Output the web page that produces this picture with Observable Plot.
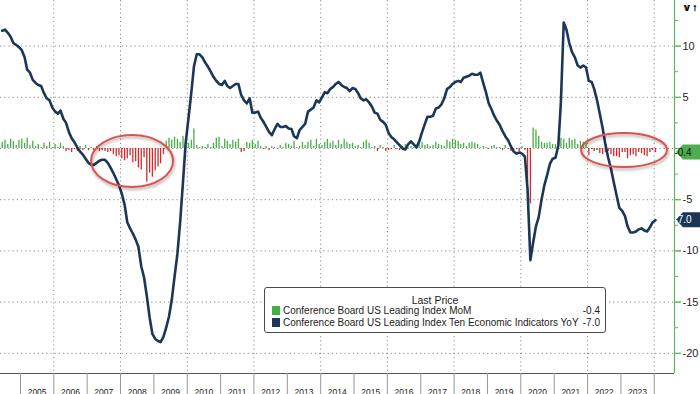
<!DOCTYPE html>
<html><head><meta charset="utf-8">
<script src="https://cdn.jsdelivr.net/npm/d3@7"></script>
<script src="https://cdn.jsdelivr.net/npm/@observablehq/plot@0.6"></script>
<style>
html,body{margin:0;padding:0;background:#fff;}
#wrap{position:relative;width:700px;height:394px;overflow:hidden;}
#legend{position:absolute;left:264px;top:287px;width:340px;height:44px;border:1px solid #4a4a4a;border-radius:3px;background:#fff;font-family:"Liberation Sans",Arial,sans-serif;font-size:10px;color:#222;}
#legend .t{position:absolute;left:0;width:100%;text-align:center;top:6px;font-size:10.5px;}
#legend .r{position:absolute;left:7px;right:5px;height:12px;line-height:12px;white-space:nowrap;}
#legend .sw{display:inline-block;width:8px;height:9px;vertical-align:-1px;margin-right:3px;}
#legend .v{position:absolute;right:0;top:0;}
</style></head><body><div id="wrap"></div>
<script>
// Monthly data, June 2004 .. January 2024
const startYear = 2004, startMonthIndex = 5; // June
const yoy = [
  11.5, 11.6, 11.3, 10.9, 10.3, 10.1, 9.9,                       // 2004 Jun-Dec
  9.6, 8.9, 7.7, 7.4, 6.7, 6.4, 6.2, 6.1, 5.4, 4.9, 4.7, 4.0,     // 2005
  3.6, 3.4, 3.7, 2.9, 2.5, 1.6, 1.0, 0.6, 0.1, -0.3, -0.6, -1.0,  // 2006
  -1.4, -1.6, -1.6, -1.4, -1.2, -1.1, -1.1, -1.4, -1.9, -2.4, -3.0, -3.6, // 2007
  -4.4, -5.5, -7.2, -7.8, -8.3, -8.9, -9.6, -11.5, -12.6, -14.4, -16.5, -18.1, // 2008
  -18.6, -18.8, -18.9, -18.4, -17.5, -16.4, -14.8, -12.5, -10.3, -7.2, -3.3, 0.6, // 2009
  3.0, 5.5, 8.0, 9.2, 9.2, 8.9, 8.4, 8.0, 7.5, 7.0, 6.6, 6.3,     // 2010
  6.2, 6.6, 6.1, 5.9, 6.1, 6.3, 6.3, 5.2, 4.7, 4.4, 4.9, 3.5,     // 2011
  3.5, 3.6, 3.0, 2.6, 2.1, 1.6, 1.3, 1.9, 2.4, 2.1, 2.1, 2.2,     // 2012
  1.95, 1.9, 1.2, 1.0, 1.8, 2.1, 2.4, 3.6, 3.8, 4.0, 4.7, 4.5,    // 2013
  5.0, 5.5, 5.4, 5.8, 6.0, 6.3, 6.5, 6.2, 6.0, 5.9, 5.6, 5.9,     // 2014
  5.8, 5.4, 4.9, 4.7, 4.8, 4.5, 4.1, 3.5, 3.4, 2.8, 2.6, 2.3,     // 2015
  1.5, 1.1, 0.9, 0.6, 0.3, 0.0, -0.1, 0.4, 0.7, 0.4, 0.1, 0.7,    // 2016
  1.6, 2.4, 3.1, 3.1, 3.2, 3.9, 4.0, 4.3, 4.9, 5.8, 6.0, 6.3,     // 2017
  6.5, 6.6, 6.5, 6.9, 7.0, 7.1, 7.3, 7.2, 7.2, 7.4, 6.4, 5.5,     // 2018
  4.4, 3.8, 3.2, 2.7, 2.3, 1.7, 1.2, 0.8, 0.2, -0.3, -0.5, -0.4,  // 2019
  -0.5, -0.8, -4.0, -10.9, -9.2, -7.6, -6.7, -5.0, -3.6, -2.6, -1.5, -1.0, // 2020
  -0.9, 0.3, 4.5, 12.3, 11.6, 10.3, 9.4, 8.9, 8.1, 7.9, 8.1, 7.9, // 2021
  6.6, 6.5, 5.8, 4.7, 3.4, 2.0, 0.4, -0.9, -2.0, -3.3, -4.6, -5.8, // 2022
  -6.1, -6.6, -7.6, -8.2, -8.2, -8.1, -7.9, -7.8, -8.0, -8.1, -7.7, -7.2, // 2023
  -7.0                                                             // 2024 Jan
];
const mom = [
  0.6, 0.8, 0.4, 0.9, 0.7, 0.3, 0.8,
  0.9, 0.5, 1.0, 0.3, 0.7, 0.2, 0.4, 0.1, 0.5, 0.2, 0.6, 0.1,
  0.4, 0.1, 0.5, 0.2, -0.3, -0.2, -0.4, -0.1, -0.3, 0.2, -0.2, 0.3,
  -0.2, 0.1, -0.2, 0.2, -0.3, -0.2, -0.3, -0.4, -0.3, -0.6, -0.8, -0.7,
  -1.0, -1.2, -1.0, -0.7, -1.4, -1.3, -1.9, -2.1, -0.9, -3.3, -2.4, -2.8,
  -2.2, -1.8, -1.5, -0.6, 0.7, 1.0, 0.8, 1.1, 0.9, 0.6, 1.2, 1.0,
  0.5, 0.8, 1.9, 0.3, 0.1, 0.2, 0.1, 0.4, 0.1, 0.5, 1.0, 1.1,
  0.2, 0.9, 0.7, 0.4, 0.8, 0.6, 0.9, -0.4, -0.3, 0.6, 0.5, 0.8,
  0.4, 0.7, 0.2, -0.1, 0.2, -0.2, 0.2, 0.1, -0.1, 0.3, 0.1, 0.5,
  0.4, 0.2, 0.7, 0.1, 0.2, 0.6, 0.3, 0.6, 0.8, 0.2, 0.9, 0.4,
  0.3, 0.6, 0.9, 0.5, 0.7, 0.3, 0.8, 0.4, 0.9, 0.6, 0.4, 0.5,
  0.2, 0.3, 0.1, 0.6, 0.8, 0.5, 0.1, 0.2, -0.3, 0.3, 0.1, -0.3,
  -0.2, -0.1, 0.3, -0.1, -0.2, 0.2, 0.4, 0.1, 0.2, 0.1, 0.3, 0.5,
  0.6, 0.3, 0.4, 0.2, 0.3, 0.6, 0.4, 0.3, 0.2, 0.8, 0.6, 0.9,
  0.8, 0.7, 0.4, 0.5, 0.2, 0.5, 0.6, 0.5, 0.4, 0.1, 0.2, 0.1,
  -0.1, 0.2, 0.3, 0.1, 0.1, -0.2, 0.3, -0.1, -0.3, -0.2, -0.1, -0.3,
  0.2, -0.2, -3.3, -5.4, 2.0, 1.8, 1.2, 0.6, 0.5, 0.5, 0.6, 0.4,
  0.4, 0.3, 1.0, 0.9, 0.5, 1.0, 0.8, 0.9, 0.4, 0.7, 0.6, 0.5,
  -0.7, -0.1, -0.3, -0.2, -0.5, -0.6, -0.4, -0.3, -0.6, -0.8, -0.8, -0.9,
  -0.4, -0.4, -1.0, -0.7, -0.6, -0.8, -0.4, -0.5, -0.7, -0.8, -0.4, -0.2,
  -0.4
];
const yearLabels = [2005,2006,2007,2008,2009,2010,2011,2012,2013,2014,2015,2016,2017,2018,2019,2020,2021,2022,2023];
const yearBoundaries = [2005,2006,2007,2008,2009,2010,2011,2012,2013,2014,2015,2016,2017,2018,2019,2020,2021,2022,2023,2024];
const gridYears = [2006,2008,2010,2012,2014,2016,2018,2020,2022,2024];
const yTicks = [-20,-15,-10,-5,0,5,10,15];
const yLabelTicks = [-20,-15,-10,-5,5,10,15]; // 0 label sits under the -0.4 tag
const yMinorTicks = [-17.5,-12.5,-7.5,-2.5,2.5,7.5,12.5];
const seriesNames = ["Conference Board US Leading Index MoM", "Conference Board US Leading Index Ten Economic Indicators YoY"];
const lastValues = [-0.4, -7.0];
const legendTitle = "Last Price";
// annotation ellipses (centre date/value)
const highlights = [
  {date: new Date(Date.UTC(2008,4,12)), value: -1.27, rx: 41, ry: 26},
  {date: new Date(Date.UTC(2023,1,10)), value: -0.2, rx: 43, ry: 17}
];

const GREEN = "#44b044", RED = "#d42a2a", NAVY = "#1c3658", AXISGREEN = "#5cb85c", GRID = "#8a8a8a";
const FONT = "'Liberation Sans', Arial, sans-serif";

const dates = yoy.map((_, i) => new Date(Date.UTC(startYear, startMonthIndex + i, 15)));
const lineRows = yoy.map((v, i) => ({date: dates[i], v}));
const barRows = mom.map((v, i) => ({date: dates[i], v}));
const utcYear = y => new Date(Date.UTC(y, 0, 1));
const xDomain = [new Date(Date.UTC(2004,4,27)), new Date(Date.UTC(2024,7,10))];
const yDomain = [-21.97, 14.45];

const plot = Plot.plot({
  width: 700, height: 394,
  marginTop: 0, marginLeft: 0, marginRight: 26, marginBottom: 21,
  style: {fontFamily: FONT, background: "#fff", overflow: "hidden"},
  x: {type: "utc", domain: xDomain, axis: null},
  y: {domain: yDomain, axis: null},
  marks: [
    Plot.gridX(gridYears.map(utcYear), {stroke: GRID, strokeOpacity: 1, strokeDasharray: "1.2,3"}),
    Plot.gridY(yTicks, {stroke: GRID, strokeOpacity: 1, strokeDasharray: "1.2,3"}),
    Plot.ruleX(barRows, {x: "date", y1: 0, y2: "v", stroke: d => d.v >= 0 ? GREEN : RED, strokeWidth: 1.3}),
    Plot.line(lineRows, {x: "date", y: "v", stroke: NAVY, strokeWidth: 2.6, strokeLinejoin: "round"}),
    Plot.ruleY([yDomain[0]], {stroke: "#555", strokeWidth: 1}),
    Plot.ruleX([xDomain[1]], {stroke: AXISGREEN, strokeWidth: 1.2}),
    Plot.axisY(yTicks, {anchor: "right", tickSize: 6, stroke: AXISGREEN, text: null}),
    Plot.axisY(yLabelTicks, {anchor: "right", tickSize: 6, tickPadding: 2, stroke: AXISGREEN, fill: "#222", fontSize: 11, tickFormat: d => String(d)}),
    Plot.axisY(yMinorTicks, {anchor: "right", tickSize: 3, stroke: AXISGREEN, text: null}),
    Plot.axisX(yearBoundaries.map(utcYear), {anchor: "bottom", tickSize: 21, stroke: "#999", text: null}),
    Plot.axisX(yearLabels.map(y => new Date(Date.UTC(y, 6, 2))), {anchor: "bottom", tickSize: 0, tickPadding: 15, fill: "#222", fontSize: 8.5, tickFormat: d => String(d.getUTCFullYear())})
  ]
});

document.getElementById("wrap").appendChild(plot);
const svg = d3.select(plot);
const xs = plot.scale("x"), ys = plot.scale("y");

// drop shadow filter for ellipses
const defs = svg.append("defs");
const f = defs.append("filter").attr("id", "sh").attr("x", "-20%").attr("y", "-20%").attr("width", "140%").attr("height", "150%");
f.append("feDropShadow").attr("dx", 1).attr("dy", 2).attr("stdDeviation", 1.5).attr("flood-color", "#000").attr("flood-opacity", 0.35);

highlights.forEach(h => {
  svg.append("ellipse")
    .attr("cx", xs.apply(h.date)).attr("cy", ys.apply(h.value))
    .attr("rx", h.rx).attr("ry", h.ry)
    .attr("fill", "none").attr("stroke", "#d9534f").attr("stroke-width", 2)
    .attr("filter", "url(#sh)");
});

// last-value tags on right axis
const tagColors = [{bg: "#4cae4c", fg: "#111"}, {bg: NAVY, fg: "#fff"}];
lastValues.forEach((v, i) => {
  const y = ys.apply(v), x0 = xs.apply(xDomain[1]) + 2;
  const g = svg.append("g");
  g.append("path")
    .attr("d", `M${x0},${y} L${x0 + 7},${y - 7.5} L700,${y - 7.5} L700,${y + 7.5} L${x0 + 7},${y + 7.5} Z`)
    .attr("fill", tagColors[i].bg);
  g.append("text").attr("x", x0 + 7).attr("y", y + 3.5)
    .attr("font-family", FONT).attr("font-size", 10).attr("fill", tagColors[i].fg)
    .text(v.toFixed(1));
});

// legend box (HTML over the plot)
const lg = document.createElement("div");
lg.id = "legend";
lg.innerHTML = `<div class="t">${legendTitle}</div>` +
  seriesNames.map((n, i) => `<div class="r" style="top:${17 + i * 12}px"><span class="sw" style="background:${i === 0 ? GREEN : NAVY}"></span>${n}<span class="v">${lastValues[i].toFixed(1)}</span></div>`).join("");
document.getElementById("wrap").appendChild(lg);
</script>
</body></html>
